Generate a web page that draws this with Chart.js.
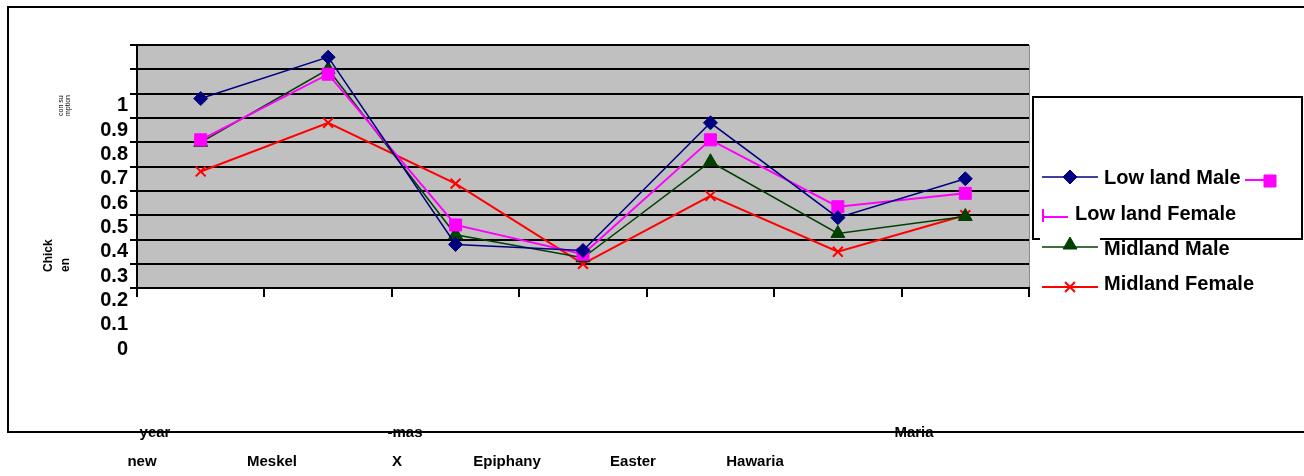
<!DOCTYPE html>
<html>
<head>
<meta charset="utf-8">
<script src="https://cdn.jsdelivr.net/npm/chart.js@4.4.0/dist/chart.umd.min.js"></script>
<style>
  html, body { margin: 0; padding: 0; background: #fff; }
</style>
</head>
<body>
<canvas id="chart" width="1304" height="476"></canvas>
<script>
// Holidays on the x axis
const holidays = ['new year', 'Meskel', 'X-mas', 'Epiphany', 'Easter', 'Hawaria', 'Maria'];

// Chicken consumption
const lowlandMale   = [0.78, 0.95, 0.18, 0.155, 0.68, 0.29, 0.45];
const lowlandFemale = [0.61, 0.88, 0.26, 0.14, 0.61, 0.335, 0.39];
const midlandMale   = [0.60, 0.90, 0.22, 0.125, 0.52, 0.225, 0.295];
const midlandFemale = [0.48, 0.68, 0.43, 0.10, 0.38, 0.15, 0.30];

// Gridlines and tick labels
const gridValues = [0, 0.1, 0.2, 0.3, 0.4, 0.5, 0.6, 0.7, 0.8, 0.9, 1];
const tickLabels = ['0', '0.1', '0.2', '0.3', '0.4', '0.5', '0.6', '0.7', '0.8', '0.9', '1'];

// Axis title and category text, broken up the way the picture shows it
const yTitleBig = ['Chick', 'en'];
const yTitleSmall = ['con su', 'mption'];
const xLabelsTop = ['year', '-mas', 'Maria'];
const xLabelsBottom = ['new', 'Meskel', 'X', 'Epiphany', 'Easter', 'Hawaria'];

const FONT = '"Liberation Sans", Arial, sans-serif';

// Gray plot background, outer frame and left axis line
const plotBackground = {
  id: 'plotBackground',
  beforeDraw(chart) {
    const ctx = chart.ctx;
    const x = chart.scales.x;
    const y = chart.scales.y;
    const top = y.getPixelForValue(1);
    const bottom = y.getPixelForValue(0);
    ctx.save();
    ctx.fillStyle = '#c0c0c0';
    ctx.fillRect(x.left, top, x.right - x.left, bottom - top);
    ctx.strokeStyle = '#8c8c8c';
    ctx.lineWidth = 1;
    ctx.beginPath();
    ctx.moveTo(x.right + 0.5, top);
    ctx.lineTo(x.right + 0.5, bottom);
    ctx.stroke();
    // chart frame
    ctx.strokeStyle = '#000';
    ctx.lineWidth = 2;
    ctx.strokeRect(8, 7, 1320, 425);
    ctx.restore();
  },
  beforeDatasetsDraw(chart) {
    const ctx = chart.ctx;
    const x = chart.scales.x;
    const y = chart.scales.y;
    ctx.save();
    ctx.strokeStyle = '#000';
    ctx.lineWidth = 2;
    ctx.beginPath();
    ctx.moveTo(x.left, y.getPixelForValue(1) - 1);
    ctx.lineTo(x.left, y.getPixelForValue(0));
    ctx.stroke();
    ctx.restore();
  }
};

// Texts around the plot
const looseText = {
  id: 'looseText',
  afterDraw(chart) {
    const ctx = chart.ctx;
    ctx.save();
    ctx.fillStyle = '#000';
    ctx.textBaseline = 'middle';

    // y title, rotated
    const rot = (text, px, py, font) => {
      ctx.save();
      ctx.translate(px, py);
      ctx.rotate(-Math.PI / 2);
      ctx.font = font;
      ctx.textAlign = 'left';
      ctx.fillText(text, 0, 0);
      ctx.restore();
    };
    rot(yTitleBig[0], 49, 272, 'bold 12px ' + FONT);
    rot(yTitleBig[1], 66, 272, 'bold 12px ' + FONT);
    rot(yTitleSmall[0], 61, 116, '7px ' + FONT);
    rot(yTitleSmall[1], 68, 116, '7px ' + FONT);

    // x labels
    ctx.font = 'bold 15px ' + FONT;
    ctx.textAlign = 'center';
    const topX = [155, 405, 914];
    const bottomX = [142, 272, 397, 507, 633, 755];
    xLabelsTop.forEach((t, i) => ctx.fillText(t, topX[i], 433));
    xLabelsBottom.forEach((t, i) => ctx.fillText(t, bottomX[i], 462));
    ctx.restore();
  }
};

// Legend, drawn from the datasets
function legendSymbol(ctx, d, x1, x2, y, mx, my) {
  ctx.strokeStyle = d.borderColor;
  ctx.fillStyle = d.backgroundColor;
  ctx.lineWidth = d.borderWidth;
  ctx.beginPath();
  ctx.moveTo(x1, y);
  ctx.lineTo(x2, y);
  ctx.stroke();
  if (mx !== null) {
    ctx.lineWidth = d.pointBorderWidth || 1;
    Chart.helpers.drawPoint(ctx, {
      pointStyle: d.pointStyle, radius: d.pointRadius,
      borderWidth: d.pointBorderWidth || 1, rotation: 0
    }, mx, my === undefined ? y : my);
  }
}

const legendBox = {
  id: 'legendBox',
  afterDraw(chart) {
    const ctx = chart.ctx;
    const ds = chart.data.datasets;
    ctx.save();
    ctx.strokeStyle = '#000';
    ctx.lineWidth = 2;
    ctx.strokeRect(1033, 97, 269, 142);

    ctx.font = 'bold 20px ' + FONT;
    ctx.textBaseline = 'middle';
    ctx.fillStyle = '#000';

    // Low land Male
    legendSymbol(ctx, ds[0], 1042, 1098, 177, 1070);
    ctx.fillStyle = '#000';
    ctx.fillText(ds[0].label, 1104, 178);

    // Low land Female: symbol split in two
    legendSymbol(ctx, ds[1], 1245, 1268, 180, 1270, 181);
    ctx.strokeStyle = ds[1].borderColor;
    ctx.lineWidth = 2;
    ctx.beginPath();
    ctx.moveTo(1042, 217);
    ctx.lineTo(1068, 217);
    ctx.moveTo(1043, 209);
    ctx.lineTo(1043, 222);
    ctx.stroke();
    ctx.fillStyle = '#000';
    ctx.fillText(ds[1].label, 1075, 214);

    // Midland Male, white patch over the legend frame
    ctx.fillStyle = '#fff';
    ctx.fillRect(1040, 236, 60, 24);
    legendSymbol(ctx, ds[2], 1042, 1098, 247, 1070, 245);
    ctx.fillStyle = '#000';
    ctx.fillText(ds[2].label, 1104, 249);

    // Midland Female
    legendSymbol(ctx, ds[3], 1042, 1098, 287, 1070);
    ctx.fillStyle = '#000';
    ctx.fillText(ds[3].label, 1104, 284);
    ctx.restore();
  }
};

const chart = new Chart(document.getElementById('chart'), {
  type: 'line',
  data: {
    labels: holidays,
    datasets: [
      {
        label: 'Low land Male', data: lowlandMale,
        borderColor: '#000080', backgroundColor: '#000080', borderWidth: 1.5,
        pointStyle: 'rectRot', pointRadius: 7, pointBorderWidth: 1
      },
      {
        label: 'Low land Female', data: lowlandFemale,
        borderColor: '#ff00ff', backgroundColor: '#ff00ff', borderWidth: 2,
        pointStyle: 'rect', pointRadius: 8.5, pointBorderWidth: 1
      },
      {
        label: 'Midland Male', data: midlandMale,
        borderColor: '#004000', backgroundColor: '#004000', borderWidth: 1.5,
        pointStyle: 'triangle', pointRadius: 8, pointBorderWidth: 1
      },
      {
        label: 'Midland Female', data: midlandFemale,
        borderColor: '#ff0000', backgroundColor: '#ff0000', borderWidth: 2,
        pointStyle: 'crossRot', pointRadius: 7, pointBorderWidth: 2
      }
    ]
  },
  options: {
    responsive: false,
    animation: false,
    layout: { padding: { left: 60, right: 275, top: 45, bottom: 127 } },
    elements: { line: { tension: 0 } },
    plugins: {
      legend: { display: false },
      tooltip: { enabled: false }
    },
    scales: {
      x: {
        type: 'category',
        offset: true,
        position: { y: 0 },
        grid: { offset: true, drawOnChartArea: false, tickLength: 8, color: '#000', lineWidth: 2 },
        border: { display: true, color: '#000', width: 2 },
        ticks: { display: false }
      },
      y: {
        position: 'left',
        min: -0.25,
        max: 1,
        afterBuildTicks: (axis) => { axis.ticks = gridValues.map(v => ({ value: v })); },
        afterFit: (axis) => { axis.width = 7; },
        grid: { color: '#000', lineWidth: 2, tickLength: 7 },
        border: { display: false },
        ticks: { display: false }
      },
      yLabels: {
        position: 'left',
        min: 0,
        max: 1.25,
        afterBuildTicks: (axis) => { axis.ticks = gridValues.map(v => ({ value: v })); },
        afterFit: (axis) => { axis.width = 70; },
        grid: { display: false, drawTicks: false },
        border: { display: false },
        ticks: {
          color: '#000',
          padding: 2,
          font: { family: FONT, size: 20, weight: 'bold' },
          callback: (value, i) => tickLabels[i]
        }
      }
    }
  },
  plugins: [plotBackground, looseText, legendBox]
});
</script>
</body>
</html>
